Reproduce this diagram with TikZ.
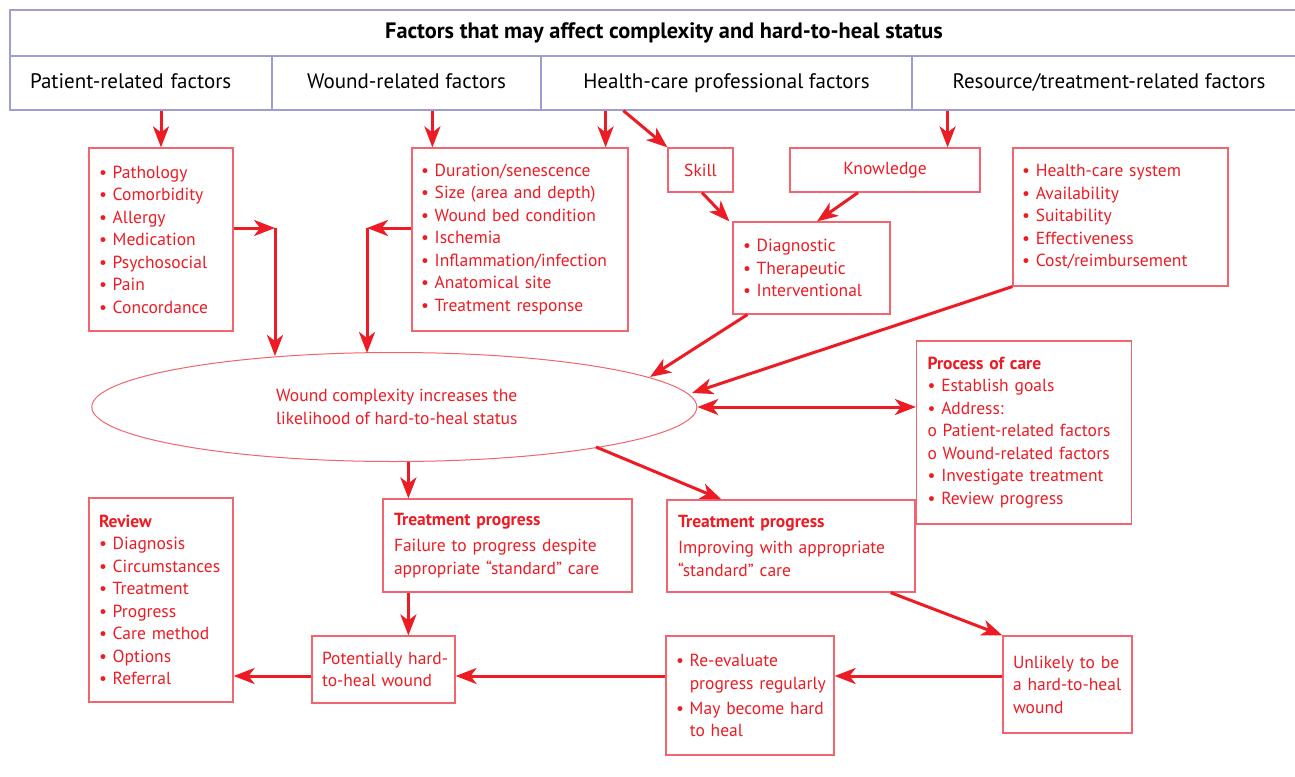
\documentclass[tikz,border=0pt]{standalone}
\usepackage{fontspec}
\setmainfont{PT Sans}
\usetikzlibrary{arrows.meta,shapes.geometric,calc}
\definecolor{wred}{HTML}{ED1C24}
\definecolor{boxred}{HTML}{F2646E}
\definecolor{hline}{HTML}{9D9DCF}
\newcommand\wbody{\fontsize{17.5}{22.5}\selectfont}
\newcommand\bul{\textbullet\ }
\newcommand\hup[1]{\raisebox{3pt}{#1}}
\begin{document}
\begin{tikzpicture}[x=1pt,y=-1pt,
  hdr/.style={draw=hline,line width=1.3pt,inner sep=0pt,text=black,font=\fontsize{21}{25}\selectfont},
  box/.style={draw=boxred,line width=1.2pt,text=wred,font=\wbody,align=left,inner xsep=10pt,inner ysep=0pt},
  arr/.style={draw=wred,line width=3pt,-{Stealth[length=21pt,width=16pt,inset=6pt]}},
  darr/.style={draw=wred,line width=3pt,{Stealth[length=21pt,width=16pt,inset=6pt]}-{Stealth[length=21pt,width=16pt,inset=6pt]}}]
\useasboundingbox (0,0) rectangle (1295,776);
\fill[white] (0,0) rectangle (1295,776);

% header
\node[hdr,minimum width=1308,minimum height=46,font=\bfseries\fontsize{22.3}{26}\selectfont] (title) at (664,33) {\raisebox{2pt}{Factors that may affect complexity and hard-to-heal status}};
\node[hdr,minimum height=54,text width=222,inner xsep=20pt,align=left] (pf) at (141,83) {\hup{Patient-related factors}};
\node[hdr,minimum width=269,minimum height=54] (wf) at (406.5,83) {\hup{Wound-related factors}};
\node[hdr,minimum width=371,minimum height=54] (hf) at (726.5,83) {\hup{Health-care professional factors}};
\node[hdr,minimum width=394,minimum height=54] (rf) at (1109,83) {\hup{Resource/treatment-related factors}};

% boxes
\node[box,text width=124,minimum height=183] (pbox) at (161,239.5)
  {\bul Pathology\\\bul Comorbidity\\\bul Allergy\\\bul Medication\\\bul Psychosocial\\\bul Pain\\\bul Concordance};
\node[box,text width=198,inner xsep=9pt,minimum height=183] (wbox) at (520,239.5)
  {\bul Duration/senescence\\\bul Size (area and depth)\\\bul Wound bed condition\\\bul Ischemia\\\mbox{\bul Inflammation/infection}\\\bul Anatomical site\\\bul Treatment response};
\node[box,align=center,inner xsep=0pt,minimum width=65,minimum height=44] (skill) at (700.5,170) {Skill};
\node[box,align=center,inner xsep=0pt,minimum width=190,minimum height=44] (know) at (885,170) {Knowledge};
\node[box,text width=197,inner xsep=9pt,minimum height=138] (rbox) at (1120.5,217)
  {\bul Health-care system\\\bul Availability\\\bul Suitability\\\bul Effectiveness\\\mbox{\bul Cost/reimbursement}};
\node[box,text width=137,minimum height=92] (diag) at (811.5,268)
  {\bul Diagnostic\\\bul Therapeutic\\\bul Interventional};
\node[box,ellipse,align=center,inner sep=0pt,line width=1pt,minimum width=605,minimum height=109] (ell) at (394.3,407)
  {\hspace*{5pt}Wound complexity increases the\\\hspace*{5pt}likelihood of hard-to-heal status};
\node[box,text width=193,inner xsep=11pt,minimum height=183] (proc) at (1024,432.5)
  {\textbf{Process of care}\\\bul Establish goals\\\bul Address:\\\mbox{o Patient-related factors}\\\mbox{o Wound-related factors}\\\mbox{\bul Investigate treatment}\\\bul Review progress};
\node[box,text width=227,inner xsep=11pt,minimum height=93] (tl) at (507.5,545.5)
  {\textbf{Treatment progress}\\[3.5pt]\mbox{Failure to progress despite}\\\mbox{appropriate “standard” care}};
\node[box,text width=226,inner xsep=11pt,minimum height=92] (tr) at (791,546)
  {\textbf{Treatment progress}\\[3.5pt]\mbox{Improving with appropriate}\\“standard” care};
\node[box,text width=124,minimum height=204] (rev) at (161,600)
  {\textbf{Review}\\\bul Diagnosis\\\mbox{\bul Circumstances}\\\bul Treatment\\\bul Progress\\\bul Care method\\\bul Options\\\bul Referral};
\node[box,text width=123,minimum height=67] (pot) at (383.5,669.5)
  {\mbox{Potentially hard-}\\\mbox{to-heal wound}};
\node[box,text width=148,minimum height=119] (reev) at (750,695.5)
  {\bul Re-evaluate\\\mbox{\phantom{\bul}progress regularly}\\[2.5pt]\mbox{\bul May become hard}\\\phantom{\bul}to heal};
\node[box,text width=109,minimum height=97] (unl) at (1067.5,684.5)
  {\mbox{Unlikely to be}\\\mbox{a hard-to-heal}\\wound};

% connectors
\draw[arr] (pf.south -| pbox.north) -- (pbox.north);
\draw[arr] ([xshift=21pt]wbox.north west |- wf.south) -- ([xshift=21pt]wbox.north west);
\draw[arr] ([xshift=-23pt]wbox.north east |- hf.south) -- ([xshift=-23pt]wbox.north east);
\draw[arr] ([xshift=83pt]hf.south west) -- (skill.north west);
\draw[arr] ([xshift=-33pt]know.north east |- rf.south) -- ([xshift=-33pt]know.north east);
\draw[arr] ([xshift=1.5pt]skill.south) -- ([xshift=-3pt]diag.north west);
\draw[arr] ([xshift=-27pt]know.south) -- ([xshift=5.5pt]diag.north);

\coordinate (pj) at (275,228);
\coordinate (pe) at (275,356);
\draw[arr] (pbox.east |- pj) -- (pj);
\draw[arr] (pj) -- (pe);
\coordinate (wj) at (367,228);
\coordinate (we) at (367,353);
\draw[arr] (wbox.west |- wj) -- (wj);
\draw[arr] (wj) -- (we);

\coordinate (ea) at (650,377);
\draw[arr] ([xshift=15pt]diag.south west) -- (ea);
\coordinate (eb) at (692,393);
\draw[arr] (rbox.south west) -- (eb);
\draw[darr] (ell.east) -- (proc.west |- ell.east);

\draw[arr] ([xshift=26pt]tl.north west |- ell.south) -- ([xshift=26pt]tl.north west);
\coordinate (ec) at (596,447);
\draw[arr] (ec) -- ([xshift=55pt]tr.north west);
\draw[arr] ([xshift=26pt]tl.south west) -- ([xshift=26pt]tl.south west |- pot.north);
\draw[arr] ([xshift=-25pt]tr.south east) -- (unl.north west);

\coordinate (hy) at (0,676);
\draw[arr] (unl.west |- hy) -- (reev.east |- hy);
\draw[arr] (reev.west |- hy) -- (pot.east |- hy);
\draw[arr] (pot.west |- hy) -- (rev.east |- hy);
\end{tikzpicture}
\end{document}
